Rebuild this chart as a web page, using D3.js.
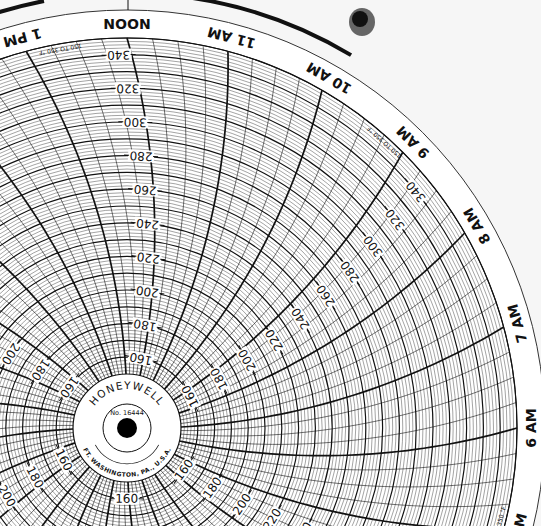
<!DOCTYPE html>
<html><head><meta charset="utf-8">
<script src="https://cdn.jsdelivr.net/npm/d3@7"></script>
<style>body{margin:0;background:#fff}svg{display:block}</style></head>
<body><svg id="c" width="541" height="526"></svg>
<script>
const hourLabels = ["NOON","11 AM","10 AM","9 AM","8 AM","7 AM","6 AM","5 AM","4 AM","3 AM","2 AM","1 AM","MIDNIGHT","11 PM","10 PM","9 PM","8 PM","7 PM","6 PM","5 PM","4 PM","3 PM","2 PM","1 PM"];
const tempTicks = [160,180,200,220,240,260,280,300,320,340];
const labelColumns = [-2, 50, 113, 167, 230, 292]; // outer start angle (deg) of label columns
const tempMin = 150, tempMax = 350;

const cx = 127, cy = 428, R0 = 54, R1 = 390, A = 700;
const svg = d3.select("#c");
const rS = d3.scaleLinear().domain([tempMin, tempMax]).range([R0, R1]);
const hourAng = d3.scaleLinear().domain([0, 24]).range([0, 360]);
const rad = d => d * Math.PI / 180;
const off = r => (Math.asin(R1 / (2 * A)) - Math.asin(r / (2 * A))) * 180 / Math.PI;
const pt = (r, deg) => [cx + r * Math.sin(rad(deg)), cy - r * Math.cos(rad(deg))];

svg.append("rect").attr("width", 541).attr("height", 526).attr("fill", "#f6f6f6");
svg.append("circle").attr("cx", cx).attr("cy", cy).attr("r", 418).attr("fill", "#fff").attr("stroke", "#333").attr("stroke-width", 1);
const g = svg.append("g");

d3.range(tempMin, tempMax + 0.1, 2).forEach(v => {
  const bold = v % 10 === 0;
  g.append("circle").attr("cx", cx).attr("cy", cy).attr("r", rS(v)).attr("fill", "none")
    .attr("stroke", "#111").attr("stroke-width", bold ? 1.2 : 0.45).attr("opacity", bold ? 1 : 0.85);
});
const line = d3.line();
const samples = d3.range(0, 41).map(i => R0 + (R1 - R0) * i / 40);
d3.range(0, 96).forEach(q => {
  const th0 = hourAng(q / 4);
  const hour = q % 4 === 0;
  g.append("path").attr("d", line(samples.map(r => pt(r, th0 + off(r)))))
    .attr("fill", "none").attr("stroke", "#111").attr("stroke-width", hour ? 1.7 : 0.6);
});
svg.append("circle").attr("cx", cx).attr("cy", cy).attr("r", R1).attr("fill", "none").attr("stroke", "#111").attr("stroke-width", 1);
hourLabels.forEach((t, i) => {
  const th = hourAng(i);
  const [x, y] = pt(405, th);
  svg.append("text").attr("transform", `translate(${x},${y}) rotate(${th + 180})`)
    .attr("text-anchor", "middle").attr("dominant-baseline", "middle")
    .attr("font-family", "DejaVu Sans").attr("font-weight", "bold").attr("font-size", 14).attr("fill", "#111").text(t);
});
labelColumns.forEach(c => {
  tempTicks.forEach(v => {
    const r = rS(v), th = c + off(r);
    const [x, y] = pt(r, th);
    const lg = svg.append("g").attr("transform", `translate(${x},${y}) rotate(${th + 180})`);
    lg.append("rect").attr("x", -13).attr("y", -6).attr("width", 26).attr("height", 12).attr("fill", "#fff");
    lg.append("line").attr("x1", -17).attr("x2", -12).attr("stroke", "#111").attr("stroke-width", 1);
    lg.append("line").attr("x1", 12).attr("x2", 17).attr("stroke", "#111").attr("stroke-width", 1);
    lg.append("text").attr("text-anchor", "middle").attr("dominant-baseline", "central")
      .attr("font-family", "DejaVu Sans").attr("font-size", 12).attr("fill", "#111").text(String(v));
  });
  const th = c + off(R1) - 8;
  const [x, y] = pt(R1 - 6, th);
  svg.append("text").attr("transform", `translate(${x},${y}) rotate(${th + 180})`)
    .attr("text-anchor", "middle").attr("dominant-baseline", "central")
    .attr("font-family", "DejaVu Sans").attr("font-size", 6).attr("fill", "#111").text("150 TO 350 °F");
});
const arc = d3.arc().innerRadius(433).outerRadius(437);
[[-22, -11], [8, 31]].forEach(([a, b]) => svg.append("path").attr("transform", `translate(${cx},${cy})`)
  .attr("d", arc({startAngle: rad(a), endAngle: rad(b)})).attr("fill", "#111"));
svg.append("line").attr("x1", 128).attr("x2", 128).attr("y1", 0).attr("y2", 10).attr("stroke", "#111");
svg.append("ellipse").attr("cx", 362).attr("cy", 22).attr("rx", 13).attr("ry", 14).attr("fill", "#666");
svg.append("circle").attr("cx", 360).attr("cy", 19).attr("r", 8).attr("fill", "#111");

const hub = svg.append("g").attr("transform", `translate(${cx},${cy})`);
hub.append("circle").attr("r", 52).attr("fill", "#fff");
const defs = svg.append("defs");
defs.append("path").attr("id", "topArc").attr("d", "M -39 0 A 39 39 0 0 1 39 0");
defs.append("path").attr("id", "botArc").attr("d", "M -44 0 A 44 44 0 0 0 44 0");
hub.append("text").attr("font-family", "DejaVu Sans").attr("font-size", 10.5).attr("letter-spacing", 1.2).attr("fill", "#111")
  .append("textPath").attr("href", "#topArc").attr("startOffset", "50%").attr("text-anchor", "middle").text("HONEYWELL");
hub.append("text").attr("y", -13).attr("text-anchor", "middle").attr("font-family", "DejaVu Sans").attr("font-size", 6.5).attr("fill", "#111").text("No. 16444");
hub.append("text").attr("font-family", "DejaVu Sans").attr("font-size", 6).attr("font-weight", "bold").attr("fill", "#111")
  .append("textPath").attr("href", "#botArc").attr("startOffset", "50%").attr("text-anchor", "middle").attr("dominant-baseline", "hanging").text("FT. WASHINGTON, PA., U.S.A.");
hub.append("circle").attr("r", 24).attr("fill", "none").attr("stroke", "#111").attr("stroke-width", 1);
hub.append("path").attr("d", d3.arc().innerRadius(35.5).outerRadius(36.3)({startAngle: rad(118), endAngle: rad(242)})).attr("fill", "#111");
hub.append("circle").attr("r", 10).attr("fill", "#000");
</script></body></html>
